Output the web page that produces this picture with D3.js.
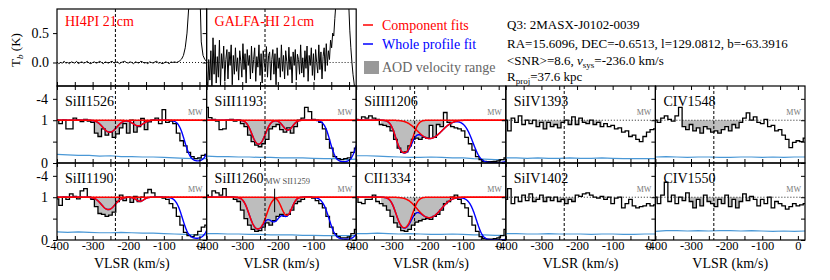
<!DOCTYPE html>
<html>
<head>
<meta charset="utf-8">
<script src="https://cdn.jsdelivr.net/npm/d3@7"></script>
<style>
  body { margin: 0; background: #fff; }
  svg text { font-family: "Liberation Serif", "Times New Roman", serif; }
</style>
</head>
<body>
<svg id="chart" width="830" height="280"></svg>
<script>
// ---- data ----
const vStart = -400, vStep = 10;            // bin centres of the absorption spectra
const errStep = 30;                          // spacing of the error arrays
const xDomain = [-400, 20];
const xTicks = [-400, -350, -300, -250, -200, -150, -100, -50, 0];
const xTickLabels = [-400, -300, -200, -100, 0];
const vsys = -236.0;
const aodRange = [-330, -130];

const ionsTop = ["SiII1526", "SiII1193", "SiIII1206", "SiIV1393", "CIV1548"];
const ionsBottom = ["SiII1190", "SiII1260", "CII1334", "SiIV1402", "CIV1550"];

const fluxSiII1526 = [1.00,0.92,1.00,0.80,0.80,1.05,1.00,0.97,1.02,0.98,
  0.95,0.70,0.62,0.80,0.65,0.72,0.60,0.68,0.82,0.92,
  0.70,1.00,0.72,0.85,1.04,0.78,0.96,1.00,1.05,0.92,
  1.25,0.95,0.98,0.92,0.70,0.52,0.40,0.25,0.15,0.10,
  0.12,0.18,0.20];
const fluxSiII1193 = [1.30,1.06,1.02,0.98,0.78,0.80,1.00,1.02,0.98,1.00,
  0.92,0.85,0.65,0.50,0.42,0.38,0.45,0.55,0.80,0.85,
  0.90,0.78,0.72,0.82,0.70,0.85,1.00,1.05,1.30,1.20,
  1.02,1.00,0.95,0.80,0.55,0.35,0.15,0.10,0.08,0.10,
  0.12,0.25,0.35];
const fluxSiIII1206 = [1.02,1.00,1.08,1.05,1.10,1.05,1.02,0.90,0.88,0.85,
  0.75,0.55,0.35,0.25,0.26,0.40,0.55,0.58,0.55,0.60,
  0.58,0.88,0.60,0.90,0.85,1.18,0.95,0.85,0.82,0.80,
  0.75,0.60,0.45,0.30,0.15,0.08,0.04,0.03,0.03,0.04,
  0.05,0.08,0.12];
const fluxSiIV1393 = [1.00,0.75,1.05,0.95,1.10,0.90,1.00,0.92,1.00,0.85,
  0.95,0.80,0.95,0.85,0.90,0.82,0.95,1.00,0.90,1.08,
  0.90,1.05,0.95,0.92,1.00,0.90,0.95,0.85,0.92,0.85,
  0.88,0.80,0.82,0.72,0.75,0.62,0.65,0.55,0.50,0.62,
  0.72,0.78,0.80];
const fluxCIV1548 = [1.00,0.95,1.05,1.10,1.02,0.98,1.10,1.30,0.85,0.78,
  0.90,0.75,0.82,0.70,0.85,0.80,0.72,0.75,0.70,0.78,
  0.85,0.75,0.90,0.82,0.95,1.05,1.17,1.00,1.08,0.95,
  0.92,1.02,0.85,0.88,0.75,0.78,0.65,0.55,0.36,0.48,
  0.52,0.50,0.58];
const fluxSiII1190 = [0.96,0.81,1.00,0.95,1.08,1.02,0.96,1.15,1.20,1.00,
  0.95,0.78,0.62,0.60,0.55,0.58,0.65,0.90,1.05,0.92,
  1.00,0.88,1.02,0.90,1.00,1.10,1.18,1.10,1.00,1.00,
  0.98,0.95,0.85,0.75,0.55,0.35,0.18,0.10,0.08,0.12,
  0.20,0.30,0.35];
const fluxSiII1260 = [1.05,1.00,1.15,1.10,1.05,1.20,1.00,1.00,0.95,0.90,
  0.70,0.50,0.35,0.25,0.20,0.22,0.30,0.40,0.35,0.45,
  0.55,0.60,0.55,0.60,0.70,0.85,0.90,0.95,1.00,1.00,
  0.98,0.92,0.85,0.75,0.55,0.30,0.15,0.08,0.05,0.05,
  0.07,0.15,0.25];
const fluxCII1334 = [1.00,0.88,0.85,0.95,0.95,1.05,0.90,0.85,0.80,0.70,
  0.55,0.40,0.30,0.22,0.20,0.25,0.35,0.42,0.45,0.48,
  0.50,0.48,0.55,0.60,0.70,0.85,0.90,1.00,1.05,0.95,
  0.85,0.75,0.55,0.35,0.20,0.08,0.03,0.02,0.02,0.03,
  0.05,0.10,0.25];
const fluxSiIV1402 = [0.95,1.20,0.85,1.00,0.90,1.05,0.92,1.08,0.90,0.95,
  1.05,0.90,1.00,0.92,1.00,0.90,0.95,0.85,0.95,0.90,
  1.05,1.02,1.08,1.10,1.05,1.00,0.98,1.02,0.95,1.00,
  0.85,0.98,1.00,0.75,0.85,0.95,0.80,0.75,0.78,0.80,
  0.85,0.80,0.82];
const fluxCIV1550 = [1.00,0.85,1.05,1.35,0.90,1.05,0.85,1.00,0.92,1.10,
  0.90,0.75,0.95,0.80,1.05,0.90,0.85,0.78,0.95,0.85,
  1.05,0.78,0.95,0.75,0.90,1.08,0.92,1.02,0.95,0.80,
  0.95,0.85,1.00,0.75,0.90,0.85,0.80,0.72,0.78,0.85,
  0.80,0.82,0.85];

const errSiII1526  = [0.20,0.19,0.18,0.18,0.16,0.17,0.15,0.15,0.14,0.14,0.13,0.12,0.11,0.10,0.10];
const errSiII1193  = [0.16,0.15,0.15,0.14,0.14,0.13,0.13,0.12,0.12,0.12,0.11,0.10,0.10,0.08,0.09];
const errSiIII1206 = [0.17,0.17,0.16,0.15,0.14,0.13,0.13,0.14,0.13,0.12,0.12,0.10,0.09,0.08,0.08];
const errSiIV1393  = [0.12,0.12,0.11,0.12,0.11,0.11,0.12,0.11,0.11,0.12,0.11,0.10,0.10,0.10,0.10];
const errCIV1548   = [0.14,0.15,0.14,0.13,0.14,0.14,0.13,0.13,0.14,0.14,0.13,0.14,0.13,0.14,0.14];
const errSiII1190  = [0.19,0.18,0.19,0.18,0.17,0.17,0.18,0.17,0.16,0.16,0.15,0.14,0.13,0.12,0.12];
const errSiII1260  = [0.15,0.15,0.14,0.14,0.13,0.13,0.12,0.12,0.12,0.11,0.11,0.10,0.10,0.10,0.10];
const errCII1334   = [0.15,0.15,0.16,0.15,0.14,0.15,0.14,0.13,0.13,0.14,0.13,0.12,0.12,0.11,0.11];
const errSiIV1402  = [0.15,0.15,0.14,0.14,0.15,0.14,0.14,0.14,0.13,0.14,0.14,0.13,0.13,0.14,0.14];
const errCIV1550   = [0.20,0.22,0.22,0.21,0.22,0.21,0.22,0.22,0.21,0.22,0.21,0.20,0.21,0.20,0.21];

// fitted components: [centre km/s, b km/s, central optical depth]
const compSiII1526  = [[-252, 25, 0.33], [-172, 20, 0.14]];
const compSiII1193  = [[-254, 22, 0.82], [-172, 18, 0.26]];
const compSiIII1206 = [[-265, 24, 1.43], [-194, 42, 0.56]];
const compSiII1190  = [[-256, 25, 0.34], [-167, 15, 0.10]];
const compSiII1260  = [[-256, 25, 1.35], [-175, 18, 0.55]];
const compCII1334   = [[-265, 24, 1.25], [-195, 40, 0.65]];
// Milky Way absorption, only part of the whole profile fit
const mwSiII1526  = [[-5, 30, 3.0]];
const mwSiII1193  = [[-15, 30, 3.5]];
const mwSiIII1206 = [[-10, 45, 5.0]];
const mwSiII1190  = [[-8, 32, 3.2]];
const mwSiII1260  = [[-10, 35, 4.0], [-210, 20, 0.8]];
const mwCII1334   = [[-5, 40, 6.0]];

const sii1259 = { label: "MW SII1259", v: -209, top: 1.2, bottom: 0.65 };

// 21cm emission
const hiStep4pi = 5;
const hi4pi = [0.01,-0.02,0.00,-0.01,0.02,-0.01,0.00,-0.02,0.01,0.00,
  -0.01,0.02,-0.02,0.00,0.01,-0.01,0.00,0.02,-0.01,-0.02,
  0.00,0.01,-0.01,0.00,0.02,0.00,-0.02,0.01,0.00,-0.01,
  0.01,0.02,-0.01,0.00,0.01,-0.02,0.00,0.01,0.02,0.00,
  -0.01,0.01,0.00,-0.02,0.01,0.00,-0.01,0.02,0.01,-0.01,
  0.00,-0.02,0.01,0.00,-0.01,0.01,0.02,-0.01,0.00,-0.02,
  -0.01,0.01,0.00,-0.02,0.01,0.00,0.01,0.00,
  0.01,0.03,0.06,0.12,0.25,0.50,0.95,1.60,2.40,3.00,3.20,2.60,1.50,0.35,0.12,0.05,0.02];
const hiStepGalfa = 3;
const galfa = [-0.15,-0.55,0.05,-0.30,0.20,-0.45,0.42,-0.20,0.30,-0.35,
  0.10,-0.25,0.38,-0.40,0.15,-0.10,0.28,-0.32,0.05,0.22,
  -0.28,0.18,-0.05,0.30,-0.38,0.12,-0.20,0.25,-0.15,0.08,
  -0.30,0.20,0.02,-0.25,0.32,-0.12,0.15,-0.35,0.22,-0.05,
  0.12,-0.28,0.28,-0.18,0.05,0.25,-0.32,0.10,-0.08,0.30,
  -0.22,0.15,-0.35,0.20,0.00,-0.15,0.27,-0.25,0.12,0.18,
  -0.30,0.05,0.22,-0.20,0.15,-0.38,0.25,-0.10,0.08,-0.25,
  0.30,-0.15,0.12,-0.28,0.20,0.02,-0.22,0.26,-0.12,0.10,
  -0.35,0.18,-0.05,0.22,-0.30,0.14,0.05,-0.20,0.30,-0.18,
  0.08,-0.25,0.20,-0.10,0.28,-0.32,0.12,-0.05,0.25,-0.22,
  0.15,-0.30,0.22,0.00,-0.18,0.30,-0.12,0.18,-0.28,0.10,
  0.25,-0.15,0.32,-0.05,
  0.20,0.05,0.38,0.25,0.50,0.45,0.75,1.00,1.30,1.60,1.90,2.20,2.40,2.60,2.50,2.40,2.10,1.80,1.40,1.00,0.55,0.25,0.00,-0.20,-0.35,-0.50,-0.45];

const flux = { SiII1526: fluxSiII1526, SiII1193: fluxSiII1193, SiIII1206: fluxSiIII1206, SiIV1393: fluxSiIV1393, CIV1548: fluxCIV1548,
  SiII1190: fluxSiII1190, SiII1260: fluxSiII1260, CII1334: fluxCII1334, SiIV1402: fluxSiIV1402, CIV1550: fluxCIV1550 };
const errs = { SiII1526: errSiII1526, SiII1193: errSiII1193, SiIII1206: errSiIII1206, SiIV1393: errSiIV1393, CIV1548: errCIV1548,
  SiII1190: errSiII1190, SiII1260: errSiII1260, CII1334: errCII1334, SiIV1402: errSiIV1402, CIV1550: errCIV1550 };
const comps = { SiII1526: compSiII1526, SiII1193: compSiII1193, SiIII1206: compSiIII1206,
  SiII1190: compSiII1190, SiII1260: compSiII1260, CII1334: compCII1334 };
const mws = { SiII1526: mwSiII1526, SiII1193: mwSiII1193, SiIII1206: mwSiIII1206,
  SiII1190: mwSiII1190, SiII1260: mwSiII1260, CII1334: mwCII1334 };

// ---- layout ----
const left = 57, colW = 149.6;
const hiTop = 9, hiBottom = 86;
const rowTop = [86, 163], rowH = 77;
const RED = "#ff0000", BLUE = "#0000ff", ERR = "#4a98d6";

const svg = d3.select("#chart");
const defs = svg.append("defs");

function xScale(c) {
  return d3.scaleLinear().domain(xDomain).range([left + c * colW, left + (c + 1) * colW]);
}

function clipFor(id, x0, y0, w, h) {
  defs.append("clipPath").attr("id", id).append("rect")
    .attr("x", x0).attr("y", y0).attr("width", w).attr("height", h);
  return "url(#" + id + ")";
}

// tick marks only, no text
function tickOnly(sel) {
  sel.select(".domain").remove();
  sel.selectAll("text").remove();
}

// absorption model: product of exp(-tau * gaussian)
function model(list) {
  return v => list.reduce((p, c) => p * Math.exp(-c[2] * Math.exp(-Math.pow((v - c[0]) / c[1], 2))), 1);
}
const vFine = d3.range(xDomain[0], xDomain[1] + 0.5, 1);

function drawPanel(ion, c, r) {
  const x = xScale(c);
  const y0 = rowTop[r], y1 = rowTop[r] + rowH;
  const y = d3.scaleLinear().domain([0, 1.8]).range([y1, y0]);
  const g = svg.append("g");
  const clip = clipFor("clip-" + ion, x.range()[0], y0, colW, rowH);
  const inner = g.append("g").attr("clip-path", clip);

  const data = flux[ion].map((f, i) => ({ v: vStart + i * vStep, f: f }));
  const inRange = data.filter(d => d.v >= aodRange[0] && d.v <= aodRange[1]);

  // AOD range shading
  inner.append("path")
    .datum(inRange)
    .attr("fill", "#bdbdbd")
    .attr("d", d3.area().curve(d3.curveStep)
      .x(d => x(d.v)).y0(y(1)).y1(d => y(Math.min(d.f, 1))));

  // continuum
  inner.append("line")
    .attr("x1", x.range()[0]).attr("x2", x.range()[1])
    .attr("y1", y(1)).attr("y2", y(1))
    .attr("stroke", "#000").attr("stroke-width", 0.9).attr("stroke-dasharray", "1,2");

  // error spectrum
  inner.append("path")
    .datum(errs[ion].map((e, i) => ({ v: vStart + i * errStep, e: e })))
    .attr("fill", "none").attr("stroke", ERR).attr("stroke-width", 1.2)
    .attr("d", d3.line().x(d => x(d.v)).y(d => y(d.e)));

  // flux histogram
  inner.append("path")
    .datum(data)
    .attr("fill", "none").attr("stroke", "#000").attr("stroke-width", 1.3)
    .attr("d", d3.line().curve(d3.curveStep).x(d => x(d.v)).y(d => y(d.f)));

  if (comps[ion]) {
    const whole = model(comps[ion].concat(mws[ion]));
    inner.append("path")
      .datum(vFine)
      .attr("fill", "none").attr("stroke", BLUE).attr("stroke-width", 1.4)
      .attr("d", d3.line().x(v => x(v)).y(v => y(whole(v))));
    comps[ion].forEach(cp => {
      const m = model([cp]);
      inner.append("path")
        .datum(vFine)
        .attr("fill", "none").attr("stroke", RED).attr("stroke-width", 1.5)
        .attr("d", d3.line().x(v => x(v)).y(v => y(m(v))));
    });
  }

  // systemic velocity
  g.append("line")
    .attr("x1", x(vsys)).attr("x2", x(vsys)).attr("y1", y0).attr("y2", y1)
    .attr("stroke", "#000").attr("stroke-width", 1).attr("stroke-dasharray", "3,2");

  g.append("text")
    .attr("x", x.range()[1] - 4).attr("y", y(1.12))
    .attr("text-anchor", "end").attr("font-size", 8).attr("fill", "#777")
    .text("MW");

  if (ion === "SiII1260") {
    g.append("line")
      .attr("x1", x(sii1259.v)).attr("x2", x(sii1259.v))
      .attr("y1", y(sii1259.top)).attr("y2", y(sii1259.bottom))
      .attr("stroke", "#000").attr("stroke-width", 1);
    g.append("text")
      .attr("x", x(sii1259.v - 27)).attr("y", y(1.3))
      .attr("font-size", 8.5).attr("fill", "#555")
      .text(sii1259.label);
  }

  g.append("text")
    .attr("x", x.range()[0] + 8).attr("y", y0 + 20)
    .attr("font-size", 14).attr("fill", "#000")
    .text(ion);

  // axes
  g.append("g").attr("transform", `translate(0,${y1})`)
    .call(d3.axisBottom(x).tickValues(xTicks).tickSizeInner(-4).tickSizeOuter(0))
    .call(tickOnly);
  if (r === 1) {
    const lab = g.append("g").attr("transform", `translate(0,${y1})`)
      .call(d3.axisBottom(x).tickValues(xTickLabels).tickSize(0).tickPadding(1)
        .tickFormat(d => String(d)));
    lab.select(".domain").remove();
    lab.selectAll("text").attr("font-size", 12.5).attr("font-family", null);
  }

  g.append("g").attr("transform", `translate(0,${y0})`)
    .call(d3.axisTop(x).tickValues(xTicks).tickSizeInner(-4).tickSizeOuter(0))
    .call(tickOnly);

  const leftAx = g.append("g").attr("transform", `translate(${x.range()[0]},0)`)
    .call(d3.axisLeft(y).tickValues([0, 0.5, 1, 1.5]).tickSizeInner(4).tickSizeOuter(0)
      .tickPadding(5)
      .tickFormat(d => ({ 0: "0", 1: "1", 1.5: "-4" })[d] || ""));
  leftAx.select(".domain").remove();
  if (c === 0) {
    leftAx.selectAll("text").filter(d => d === 0.5).remove();
    leftAx.selectAll("text").attr("font-size", 14).attr("font-family", null);
  } else {
    leftAx.selectAll("text").remove();
  }

  if (c === 4) {
    g.append("g").attr("transform", `translate(${x.range()[1]},0)`)
      .call(d3.axisRight(y).tickValues([0, 0.5, 1, 1.5]).tickSizeInner(-4).tickSizeOuter(0))
      .call(tickOnly);
  }

  g.append("rect")
    .attr("x", x.range()[0]).attr("y", y0).attr("width", colW).attr("height", rowH)
    .attr("fill", "none").attr("stroke", "#000").attr("stroke-width", 1.2);

  if (r === 1) {
    g.append("text")
      .attr("x", (x.range()[0] + x.range()[1]) / 2).attr("y", 268)
      .attr("text-anchor", "middle").attr("font-size", 14)
      .text("VLSR (km/s)");
  }
}

ionsTop.forEach((ion, c) => drawPanel(ion, c, 0));
ionsBottom.forEach((ion, c) => drawPanel(ion, c, 1));

// ---- 21cm panels ----
function drawHI(c, values, step, label) {
  const x = xScale(c);
  const y = d3.scaleLinear().domain([-0.4, 0.91]).range([hiBottom, hiTop]);
  const g = svg.append("g");
  const clip = clipFor("clip-hi" + c, x.range()[0], hiTop, colW, hiBottom - hiTop);
  const inner = g.append("g").attr("clip-path", clip);

  inner.append("line")
    .attr("x1", x.range()[0]).attr("x2", x.range()[1]).attr("y1", y(0)).attr("y2", y(0))
    .attr("stroke", "#000").attr("stroke-width", 0.9).attr("stroke-dasharray", "1,2");

  inner.append("path")
    .datum(values.map((t, i) => ({ v: xDomain[0] + i * step, t: t })))
    .attr("fill", "none").attr("stroke", "#000").attr("stroke-width", 1)
    .attr("d", d3.line().x(d => x(d.v)).y(d => y(d.t)));

  g.append("line")
    .attr("x1", x(vsys)).attr("x2", x(vsys)).attr("y1", hiTop).attr("y2", hiBottom)
    .attr("stroke", "#000").attr("stroke-width", 1).attr("stroke-dasharray", "3,2");

  g.append("g").attr("transform", `translate(0,${hiBottom})`)
    .call(d3.axisBottom(x).tickValues(xTicks).tickSizeInner(-4).tickSizeOuter(0))
    .call(tickOnly);

  const leftAx = g.append("g").attr("transform", `translate(${x.range()[0]},0)`)
    .call(d3.axisLeft(y).tickValues([0, 0.5]).tickSizeInner(4).tickSizeOuter(0).tickPadding(4)
      .tickFormat(d3.format(".1f")));
  leftAx.select(".domain").remove();
  if (c === 0) leftAx.selectAll("text").attr("font-size", 14).attr("font-family", null);
  else leftAx.selectAll("text").remove();

  g.append("rect")
    .attr("x", x.range()[0]).attr("y", hiTop).attr("width", colW).attr("height", hiBottom - hiTop)
    .attr("fill", "none").attr("stroke", "#000").attr("stroke-width", 1.2);

  g.append("text")
    .attr("x", x.range()[0] + 8).attr("y", 26)
    .attr("font-size", 14).attr("fill", RED)
    .text(label);
}
drawHI(0, hi4pi, hiStep4pi, "HI4PI 21cm");
drawHI(1, galfa, hiStepGalfa, "GALFA-HI 21cm");

// y label of the 21cm panels
const yl = svg.append("text")
  .attr("transform", "translate(20,50) rotate(-90)")
  .attr("text-anchor", "middle").attr("font-size", 13);
yl.append("tspan").text("T");
yl.append("tspan").attr("font-size", 9).attr("font-style", "italic").attr("dy", 3).text("b");
yl.append("tspan").attr("dy", -3).text(" (K)");

// ---- legend ----
const legend = [
  { label: "Component fits", color: RED },
  { label: "Whole profile fit", color: BLUE }
];
legend.forEach((d, i) => {
  svg.append("line").attr("x1", 363).attr("x2", 373)
    .attr("y1", 25 + i * 19).attr("y2", 25 + i * 19)
    .attr("stroke", d.color).attr("stroke-width", 1.5);
  svg.append("text").attr("x", 382).attr("y", 30 + i * 19)
    .attr("font-size", 14).attr("fill", d.color).text(d.label);
});
svg.append("rect").attr("x", 364).attr("y", 61).attr("width", 15).attr("height", 13).attr("fill", "#999");
svg.append("text").attr("x", 382).attr("y", 72).attr("font-size", 14).attr("fill", "#666").text("AOD velocity range");

// ---- object info ----
const info = svg.append("g").attr("font-size", 13).attr("fill", "#000");
info.append("text").attr("x", 507).attr("y", 29).text("Q3: 2MASX-J0102-0039");
info.append("text").attr("x", 507).attr("y", 47.5).text("RA=15.6096, DEC=-0.6513, l=129.0812, b=-63.3916");
const snr = info.append("text").attr("x", 507).attr("y", 64.5);
snr.append("tspan").text("<SNR>=8.6, ");
snr.append("tspan").attr("font-style", "italic").text("v");
snr.append("tspan").attr("font-size", 9).attr("dy", 3).text("sys");
snr.append("tspan").attr("dy", -3).text("=-236.0 km/s");
const rp = info.append("text").attr("x", 507).attr("y", 80.5);
rp.append("tspan").text("R");
rp.append("tspan").attr("font-size", 9).attr("dy", 3).text("proj");
rp.append("tspan").attr("dy", -3).text("=37.6 kpc");
</script>
</body>
</html>
